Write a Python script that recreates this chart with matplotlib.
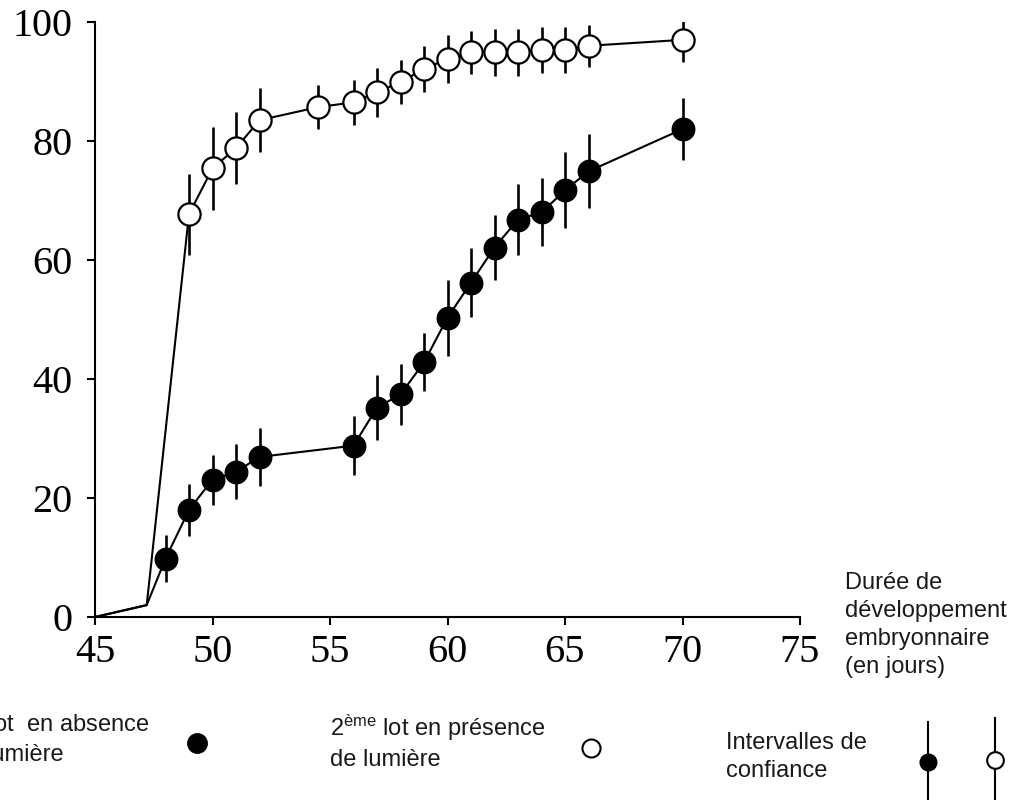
import matplotlib
matplotlib.use("Agg")
import matplotlib.pyplot as plt
import numpy as np

# ---- data ----
# first lot (absence of light) : filled circles
x_dark = [45, 47.2, 48, 49, 50, 51, 52, 56, 57, 58, 59, 60, 61, 62, 63, 64, 65, 66, 70]
y_dark = [0, 2, 9.8, 18.0, 23.1, 24.4, 26.9, 28.8, 35.2, 37.4, 42.8, 50.3, 56.2, 62.1, 66.8, 68.0, 71.7, 74.9, 82.0]
e_dark = [0, 0, 4.0, 4.4, 4.2, 4.6, 4.9, 5.0, 5.4, 5.1, 4.9, 6.4, 5.8, 5.5, 6.0, 5.7, 6.4, 6.2, 5.2]

# second lot (presence of light) : open circles
x_light = [45, 47.2, 49, 50, 51, 52, 54.5, 56, 57, 58, 59, 60, 61, 62, 63, 64, 65, 66, 70]
y_light = [0, 2, 67.7, 75.4, 78.8, 83.5, 85.7, 86.5, 88.2, 89.9, 92.1, 93.8, 94.9, 94.9, 94.9, 95.3, 95.3, 96.0, 97.0]
e_light = [0, 0, 6.8, 7.0, 6.0, 5.4, 3.7, 3.8, 4.1, 3.7, 3.9, 4.0, 3.6, 4.0, 4.0, 3.8, 3.8, 3.5, 3.7]

x_ticks = [45, 50, 55, 60, 65, 70, 75]
y_ticks = [0, 20, 40, 60, 80, 100]

axis_title = "Durée de\ndéveloppement\nembryonnaire\n(en jours)"
legend_dark = "1$^{\\mathrm{er}}$ lot  en absence\nde lumière"
legend_light = "2$^{\\mathrm{ème}}$ lot en présence\nde lumière"
legend_ci = "Intervalles de\nconfiance"

plt.rcParams['mathtext.fontset'] = 'custom'
plt.rcParams['mathtext.rm'] = 'Liberation Sans'
plt.rcParams['mathtext.it'] = 'Liberation Sans'

W, H = 1020, 800
fig = plt.figure(figsize=(W / 100, H / 100), dpi=100)
ax = fig.add_axes([95 / W, 1 - 617 / H, (800 - 95) / W, (617 - 22) / H])

ms = 16
ebw = 1.9
# lines
ax.plot(x_dark, y_dark, color='black', lw=1.5, zorder=2)
ax.plot(x_light, y_light, color='black', lw=1.5, zorder=2)
# error bars
ax.errorbar(x_dark[2:], y_dark[2:], yerr=e_dark[2:], fmt='none', ecolor='black',
            elinewidth=ebw, capsize=0, zorder=3)
ax.errorbar(x_light[2:], y_light[2:], yerr=e_light[2:], fmt='none', ecolor='black',
            elinewidth=ebw, capsize=0, zorder=3)
# markers
ax.plot(x_dark[2:], y_dark[2:], 'o', ms=ms, mfc='black', mec='black', mew=1.2, ls='none', zorder=4)
ax.plot(x_light[2:], y_light[2:], 'o', ms=ms, mfc='white', mec='black', mew=1.6, ls='none', zorder=4)

ax.set_xlim(45, 75)
ax.set_ylim(0, 100)
ax.set_xticks(x_ticks)
ax.set_yticks(y_ticks)
for s in ['top', 'right']:
    ax.spines[s].set_visible(False)
for s in ['left', 'bottom']:
    ax.spines[s].set_linewidth(1.5)
ax.tick_params(axis='both', direction='out', length=6, width=1.5)
ax.tick_params(axis='y', pad=10)
ax.tick_params(axis='x', pad=6)
for lab in ax.get_xticklabels() + ax.get_yticklabels():
    lab.set_fontfamily('Liberation Serif')
    lab.set_fontsize(29)

sans = 'Liberation Sans'
fs = 17
ls = 1.36
tc = '#1a1a1a'
fig.text(845 / W, 1 - 625 / H, axis_title, ha='left', va='center', fontsize=fs,
         family=sans, linespacing=ls, color=tc)

# legend area (overlay in pixel coordinates)
lax = fig.add_axes([0, 0, 1, 1], facecolor='none')
lax.set_xlim(0, W)
lax.set_ylim(H, 0)
lax.axis('off')

lax.text(-47, 740, legend_dark, ha='left', va='center', fontsize=fs, family=sans,
         linespacing=ls, color=tc)
lax.plot([197], [743], 'o', ms=14, mfc='black', mec='black')

lax.text(330, 742, legend_light, ha='left', va='center', fontsize=fs, family=sans,
         linespacing=ls, color=tc)
lax.plot([591], [748], 'o', ms=13, mfc='white', mec='black', mew=1.5)

lax.text(726, 757, legend_ci, ha='left', va='center', fontsize=fs, family=sans,
         linespacing=ls, color=tc)
lax.plot([928, 928], [722, 805], color='black', lw=1.5)
lax.plot([928], [762], 'o', ms=12, mfc='black', mec='black')
lax.plot([995, 995], [718, 805], color='black', lw=1.5)
lax.plot([995], [760], 'o', ms=12, mfc='white', mec='black', mew=1.5)

fig.savefig('out.png', dpi=100)
